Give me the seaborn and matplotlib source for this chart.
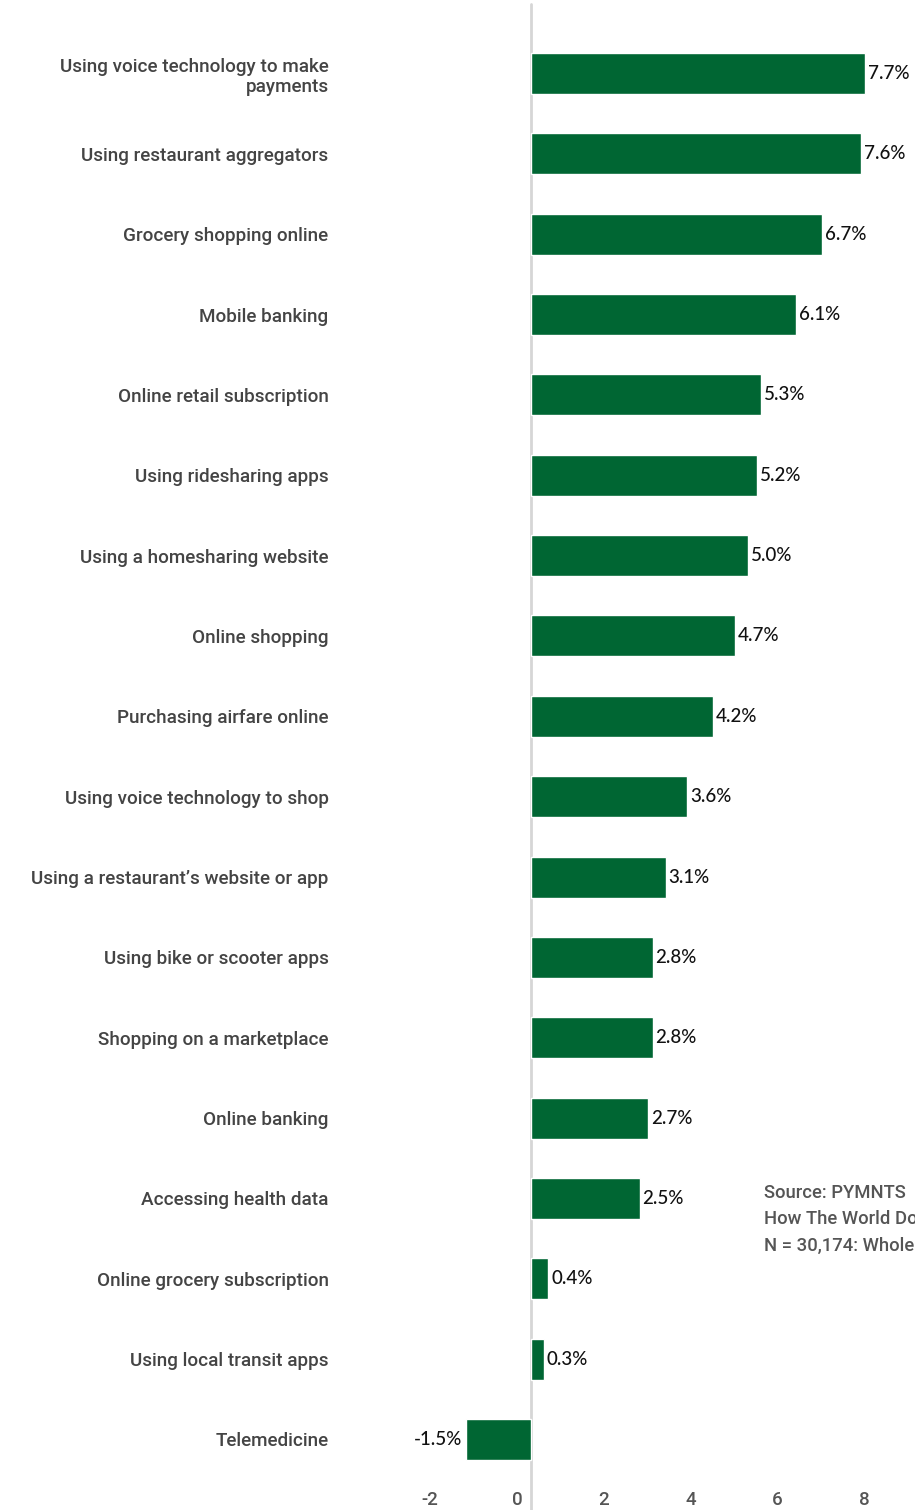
import matplotlib
matplotlib.use("Agg")
import matplotlib.pyplot as plt
import matplotlib.transforms as mtransforms
import seaborn as sns
import pandas as pd

# chart data
activities = [
    "Using voice technology to make\npayments",
    "Using restaurant aggregators",
    "Grocery shopping online",
    "Mobile banking",
    "Online retail subscription",
    "Using ridesharing apps",
    "Using a homesharing website",
    "Online shopping",
    "Purchasing airfare online",
    "Using voice technology to shop",
    "Using a restaurant’s website or app",
    "Using bike or scooter apps",
    "Shopping on a marketplace",
    "Online banking",
    "Accessing health data",
    "Online grocery subscription",
    "Using local transit apps",
    "Telemedicine",
]
growth = [7.7, 7.6, 6.7, 6.1, 5.3, 5.2, 5.0, 4.7, 4.2, 3.6, 3.1, 2.8, 2.8, 2.7, 2.5, 0.4, 0.3, -1.5]
x_ticks = [-2, 0, 2, 4, 6, 8]
source_lines = [
    "Source: PYMNTS",
    "How The World Does Digital",
    "N = 30,174: Whole sample, fielded in 2020",
]

df = pd.DataFrame({"activity": activities, "growth": growth})

sns.set_style("white")
plt.rcParams["font.family"] = ["Roboto", "DejaVu Sans"]

W, H = 915, 1510
fig = plt.figure(figsize=(W / 100, H / 100), dpi=100)

# axes placement in pixels
left_px, right_px = 380, 915
top_px, bottom_px = 4, 1480
ax = fig.add_axes([left_px / W, 1 - bottom_px / H,
                   (right_px - left_px) / W, (bottom_px - top_px) / H])

green = "#006633"
sns.barplot(data=df, x="growth", y="activity", orient="h", color=green,
            saturation=1, width=0.51, ax=ax)

# scale: zero at 531 px, 43.4 px per unit
zero_px, ppu = 531, 43.4
ax.set_xlim((left_px - zero_px) / ppu, (right_px - zero_px) / ppu)
step = 80.35
ax.set_ylim(17 + (bottom_px - 1439.5) / step, -(73.5 - top_px) / step)

for s in ax.spines.values():
    s.set_visible(False)

ax.axvline(0, color="#d6d6d6", lw=2, ymin=-0.02, ymax=1, clip_on=False, zorder=0)

ax.set_xlabel("")
ax.set_ylabel("")
ax.set_xticks(x_ticks)
ax.set_xticklabels([str(t) for t in x_ticks])
ax.tick_params(axis="x", length=0, pad=8, labelsize=13.5, labelcolor="#555555")
ax.tick_params(axis="y", length=0, pad=37, labelsize=13.6, labelcolor="#444444")
for lbl in ax.get_yticklabels():
    lbl.set_fontweight("medium")
for lbl in ax.get_xticklabels():
    lbl.set_fontweight("medium")
    lbl.set_transform(lbl.get_transform() + mtransforms.ScaledTranslation(-14 / 100, 0, fig.dpi_scale_trans))

# value labels
for i, v in enumerate(growth):
    ha = "left" if v >= 0 else "right"
    off = 2 if v >= 0 else -3
    ax.annotate(f"{v:.1f}%", xy=(v, i), xytext=(off, 0), textcoords="offset points",
                ha=ha, va="center", fontsize=13.5, color="#111111",
                family=["Lato", "DejaVu Sans"], fontweight="medium")

# source note (runs off the right edge, as in the original)
for k, line in enumerate(source_lines):
    fig.text(764 / W, 1 - (1193 + 26.5 * k) / H, line, ha="left", va="center",
             fontsize=13.3, color="#555555", fontweight="medium")

fig.savefig("out.png", dpi=100)
